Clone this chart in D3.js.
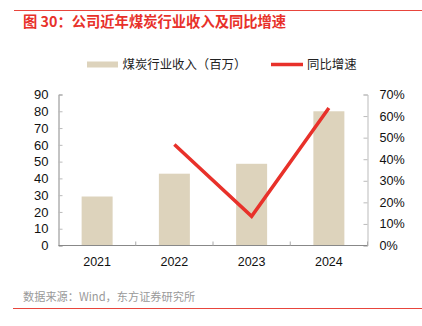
<!DOCTYPE html>
<html><head><meta charset="utf-8">
<script src="https://cdn.jsdelivr.net/npm/d3@7"></script>
<style>body{margin:0;background:#fff}svg{display:block}</style>
</head><body>
<svg id="c" width="422" height="326"></svg>
<script>
const categories = ["2021","2022","2023","2024"];
const revenue = [29.2, 42.8, 48.7, 80.0];
const growth = [null, 46.8, 13.5, 63.7];
const leftTicks = [0,10,20,30,40,50,60,70,80,90];
const rightTicks = [0,10,20,30,40,50,60,70];

const svg = d3.select("#c");
const font = "'Liberation Sans', Arial, 'Noto Sans CJK SC', sans-serif";
const cjk = "'Noto Sans CJK SC', 'Liberation Sans', sans-serif";
const red = "#e8312a";
const barColor = "#ddd3bc";
const axisColor = "#888";

svg.append("line").attr("x1",14).attr("x2",422).attr("y1",10.5).attr("y2",10.5).attr("stroke","#e8453c").attr("stroke-width",1);
svg.append("text").attr("x",23).attr("y",27).attr("fill",red).attr("font-family",cjk).attr("font-weight","bold").attr("font-size",14.3).text("图 30：公司近年煤炭行业收入及同比增速");

// legend
svg.append("rect").attr("x",87).attr("y",61.5).attr("width",31).attr("height",6).attr("fill",barColor);
svg.append("text").attr("x",122.5).attr("y",69).attr("font-family",cjk).attr("font-size",12.4).attr("fill","#222").text("煤炭行业收入（百万）");
svg.append("line").attr("x1",271).attr("x2",303).attr("y1",64.5).attr("y2",64.5).attr("stroke",red).attr("stroke-width",3.5);
svg.append("text").attr("x",307).attr("y",69).attr("font-family",cjk).attr("font-size",12.4).attr("fill","#222").text("同比增速");

const L = 58.5, R = 367.5, T = 94.5, B = 245.5;
const xb = d3.scaleBand().domain(categories).range([L,R]);
const yL = d3.scaleLinear().domain([0,90]).range([B,T]);
const yR = d3.scaleLinear().domain([0,70]).range([B,T]);

// bars
svg.append("g").selectAll("rect").data(revenue).join("rect")
  .attr("x",(d,i)=>xb(categories[i]) + xb.bandwidth()/2 - 15.5)
  .attr("width",31)
  .attr("y",d=>yL(d)).attr("height",d=>B-yL(d)).attr("fill",barColor);

// left axis
const gl = svg.append("g").attr("transform",`translate(${L},0)`)
  .call(d3.axisLeft(yL).tickValues(leftTicks).tickSize(-4).tickPadding(10).tickFormat(d3.format("d")));
gl.select(".domain").attr("stroke",axisColor);
gl.selectAll(".tick line").attr("stroke","#bbb");
gl.selectAll("text").attr("font-family",font).attr("font-size",13).attr("fill","#111");

// right axis
const gr = svg.append("g").attr("transform",`translate(${R},0)`)
  .call(d3.axisRight(yR).tickValues(rightTicks).tickSize(-4).tickPadding(12).tickFormat(d=>d+"%"));
gr.select(".domain").attr("stroke","#bbb");
gr.selectAll(".tick line").attr("stroke","#bbb");
gr.selectAll("text").attr("font-family",font).attr("font-size",12.6).attr("fill","#111");

// bottom axis
const gb = svg.append("g").attr("transform",`translate(0,${B})`)
  .call(d3.axisBottom(xb).tickSize(0).tickPadding(12));
gb.select(".domain").attr("stroke",axisColor).attr("d",`M${L},0H${R}`);
gb.selectAll("text").attr("font-family",font).attr("font-size",12.5).attr("fill","#111");
// boundary ticks
const bounds = categories.slice(1).map(c=>xb(c)).concat([R]);
svg.append("g").selectAll("line").data(bounds).join("line")
  .attr("x1",d=>d).attr("x2",d=>d).attr("y1",B).attr("y2",B-4).attr("stroke","#aaa");

// growth line
const pts = growth.map((g,i)=>({c:categories[i],g})).filter(d=>d.g!=null);
svg.append("path").datum(pts)
  .attr("d",d3.line().x(d=>xb(d.c)+xb.bandwidth()/2).y(d=>yR(d.g)))
  .attr("fill","none").attr("stroke",red).attr("stroke-width",3.5);

// source
svg.append("text").attr("x",23).attr("y",301).attr("font-family",cjk).attr("font-size",11.2).attr("fill","#999").text("数据来源：Wind，东方证券研究所");
svg.append("line").attr("x1",13).attr("x2",422).attr("y1",308.5).attr("y2",308.5).attr("stroke","#e8453c").attr("stroke-width",1);
</script>
</body></html>
